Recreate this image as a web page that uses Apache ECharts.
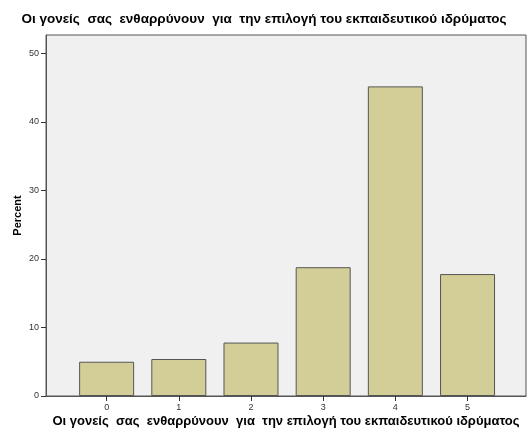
<!DOCTYPE html>
<html><head><meta charset="utf-8">
<script src="https://cdn.jsdelivr.net/npm/echarts@6/dist/echarts.min.js"></script>
<style>html,body{margin:0;padding:0;background:#fff}#c{width:528px;height:439px}</style>
</head><body><div id="c"></div>
<script>
const titleText = 'Οι γονείς  σας  ενθαρρύνουν  για  την επιλογή του εκπαιδευτικού ιδρύματος';
const categories = [0, 1, 2, 3, 4, 5];
const percentValues = [5.0, 5.4, 7.8, 18.8, 45.2, 17.8];
const yTicks = [0, 10, 20, 30, 40, 50];

const chart = echarts.init(document.getElementById('c'));
const font = '"Liberation Sans", Arial, sans-serif';
chart.setOption({
  animation: false,
  title: {
    text: titleText, left: 'center', top: 7,
    textStyle: {fontFamily: font, fontSize: 13.5, fontWeight: 'bold', color: '#000'}
  },
  grid: {left: 46, top: 35, right: 2, bottom: 43, show: true,
    backgroundColor: '#f0f0f0', borderColor: '#555', borderWidth: 1},
  xAxis: {
    type: 'value', min: -0.84, max: 5.81,
    name: titleText, nameLocation: 'middle', nameGap: 19, nameMoveOverlap: false,
    nameTextStyle: {fontFamily: font, fontSize: 13, fontWeight: 'bold', color: '#000'},
    splitLine: {show: false},
    axisLine: {show: true, onZero: false, lineStyle: {color: '#555'}},
    axisTick: {show: true, length: 5, customValues: categories, lineStyle: {color: '#333'}},
    axisLabel: {customValues: categories, fontFamily: font, fontSize: 9, color: '#333', margin: 7}
  },
  yAxis: {
    type: 'value', min: 0, max: 52.7,
    name: 'Percent', nameLocation: 'middle', nameGap: 23, nameRotate: 90, nameMoveOverlap: false,
    nameTextStyle: {fontFamily: font, fontSize: 11, fontWeight: 'bold', color: '#000'},
    splitLine: {show: false},
    axisLine: {show: true, onZero: false, lineStyle: {color: '#555'}},
    axisTick: {show: true, length: 5, customValues: yTicks, lineStyle: {color: '#333'}},
    axisLabel: {customValues: yTicks, fontFamily: font, fontSize: 9, color: '#333', margin: 7}
  },
  series: [{
    type: 'bar',
    data: categories.map((c, i) => [c, percentValues[i]]),
    barWidth: 55,
    itemStyle: {color: '#d3ce97', borderColor: '#555', borderWidth: 1}
  }]
});
</script></body></html>
